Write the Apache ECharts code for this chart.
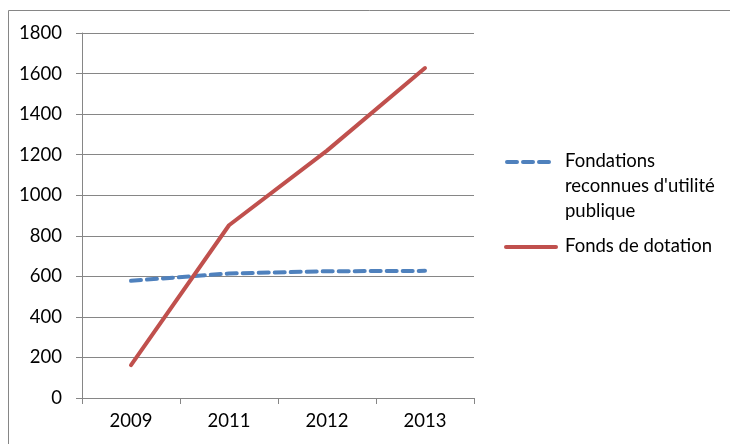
<!DOCTYPE html>
<html>
<head>
<meta charset="utf-8">
<script src="https://cdn.jsdelivr.net/npm/echarts@6/dist/echarts.min.js"></script>
<style>html,body{margin:0;padding:0;background:#fff}#c{width:730px;height:444px}</style>
</head>
<body>
<div id="c"></div>
<script>
const categories = ['2009', '2011', '2012', '2013'];
const fondations = [578, 614, 625, 627];
const fonds = [162, 852, 1220, 1627];
const seriesNames = ['Fondations\nreconnues d\'utilité\npublique', 'Fonds de dotation'];

const FONT = 'Lato';
const FS = 18.5;
const GRAY = '#868686';
const BLUE = '#4F81BD';
const RED = '#C0504D';

const chart = echarts.init(document.getElementById('c'));
chart.setOption({
  animation: false,
  backgroundColor: '#fff',
  textStyle: { fontFamily: FONT },
  grid: { left: 82, right: 256, top: 33, bottom: 46, containLabel: false },
  xAxis: {
    type: 'category',
    data: categories,
    boundaryGap: true,
    axisLine: { lineStyle: { color: GRAY, width: 1 } },
    axisTick: { show: true, length: 6, lineStyle: { color: GRAY } },
    axisLabel: { color: '#000', fontSize: FS, fontFamily: FONT, margin: 14 },
    splitLine: { show: false }
  },
  yAxis: {
    type: 'value',
    min: 0, max: 1800, interval: 200,
    axisLine: { show: true, lineStyle: { color: GRAY, width: 1 } },
    axisTick: { show: true, length: 6, lineStyle: { color: GRAY } },
    axisLabel: { color: '#000', fontSize: FS, fontFamily: FONT, margin: 20, formatter: v => String(v) },
    splitLine: { show: true, lineStyle: { color: GRAY, width: 1 } }
  },
  series: [
    {
      name: seriesNames[0], type: 'line', data: fondations,
      symbol: 'none', smooth: false,
      lineStyle: { color: BLUE, width: 4, type: [10, 6], cap: 'round' },
      z: 3
    },
    {
      name: seriesNames[1], type: 'line', data: fonds,
      symbol: 'none', smooth: false,
      lineStyle: { color: RED, width: 4, cap: 'round' },
      z: 4
    }
  ],
  graphic: [
    { type: 'rect', shape: { x: 8.5, y: 10.5, width: 740, height: 450 }, style: { fill: 'none', stroke: GRAY, lineWidth: 1 }, silent: true, z: -1 },
    { type: 'line', shape: { x1: 507, y1: 162, x2: 555, y2: 162 }, style: { stroke: BLUE, lineWidth: 4, lineDash: [10, 6], lineCap: 'round' } },
    { type: 'text', left: 565, top: 149, style: { text: seriesNames[0], font: FS + 'px Lato', fill: '#000', lineHeight: 25 } },
    { type: 'line', shape: { x1: 506, y1: 247, x2: 556, y2: 247 }, style: { stroke: RED, lineWidth: 4, lineCap: 'round' } },
    { type: 'text', left: 565, top: 234, style: { text: seriesNames[1], font: FS + 'px Lato', fill: '#000', lineHeight: 25 } }
  ]
});
</script>
</body>
</html>
